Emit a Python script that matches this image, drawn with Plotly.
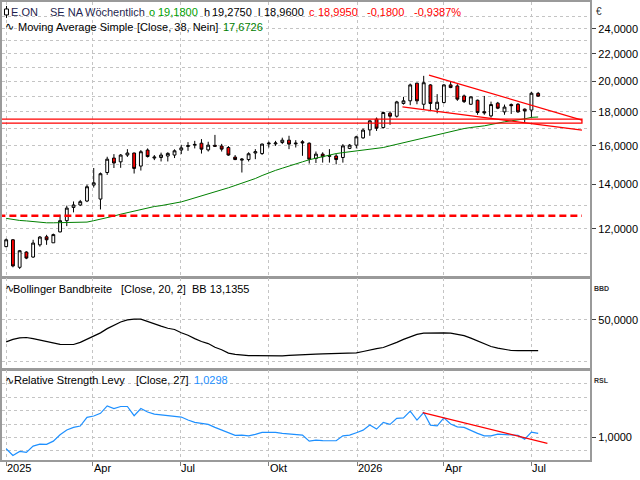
import plotly.graph_objects as go
import pandas as pd

# ---------------- data ----------------
dates = pd.date_range('2025-01-01', periods=80, freq='7D')

opens = [11.28, 11.55, 10.50, 11.07, 10.88, 11.35, 11.67, 11.43, 11.87, 12.34,
         12.92, 13.03, 13.21, 13.96, 13.30, 14.58, 15.33, 15.13, 15.49, 15.60,
         14.91, 15.76, 15.33, 15.36, 15.44, 15.49, 15.76, 15.96, 16.03, 16.14,
         15.77, 16.02, 15.98, 15.90, 15.38, 15.22, 15.25, 15.60, 15.57, 16.10,
         16.10, 16.18, 16.31, 16.10, 16.22, 16.14, 15.31, 15.54, 15.42, 15.44,
         15.36, 15.85, 16.03, 16.44, 16.90, 17.54, 17.04, 17.91, 17.72, 18.52,
         18.69, 19.87, 18.47, 19.75, 18.16, 18.58, 19.75, 19.68, 19.01, 18.47,
         18.73, 18.00, 17.74, 18.54, 17.99, 18.45, 18.47, 18.16, 18.10, 19.18]
highs = [11.60, 11.58, 11.15, 11.10, 11.55, 11.70, 11.75, 11.80, 12.60, 13.00,
         13.19, 13.26, 13.98, 14.81, 14.58, 15.40, 15.54, 15.54, 15.81, 15.62,
         15.76, 15.85, 15.49, 15.62, 15.64, 15.80, 16.05, 16.20, 16.27, 16.37,
         16.22, 16.61, 16.10, 15.98, 15.49, 15.33, 15.64, 15.81, 16.12, 16.23,
         16.27, 16.45, 16.56, 16.31, 16.31, 16.18, 15.68, 15.64, 15.81, 15.54,
         16.09, 16.09, 16.56, 16.98, 17.48, 17.64, 18.00, 18.02, 18.69, 18.95,
         19.84, 19.90, 20.38, 19.80, 19.13, 19.80, 19.97, 19.80, 19.10, 18.98,
         18.77, 19.01, 18.64, 18.62, 18.45, 18.52, 18.54, 18.20, 19.29, 19.275]
lows = [11.25, 10.50, 10.44, 10.80, 10.85, 11.28, 11.35, 11.43, 11.85, 12.11,
        12.70, 12.98, 13.16, 13.84, 12.83, 14.46, 14.81, 14.82, 15.39, 14.53,
        14.68, 15.36, 15.22, 15.15, 15.15, 15.33, 15.54, 15.72, 15.85, 15.57,
        15.68, 15.94, 15.68, 15.45, 15.22, 14.58, 15.15, 15.27, 15.50, 15.90,
        15.99, 16.09, 15.81, 15.90, 15.45, 15.04, 15.07, 15.09, 15.09, 15.00,
        15.09, 15.81, 15.85, 16.39, 16.56, 16.84, 16.98, 17.20, 17.64, 18.45,
        18.41, 18.47, 18.16, 18.10, 17.90, 18.52, 19.53, 18.69, 18.55, 18.43,
        17.81, 17.81, 17.64, 18.16, 17.81, 17.86, 17.93, 17.34, 17.64, 18.96]
closes = [11.55, 10.55, 11.12, 10.84, 11.42, 11.66, 11.55, 11.76, 12.34, 12.89,
          13.03, 13.18, 13.88, 14.07, 14.52, 15.27, 15.07, 15.49, 15.60, 14.79,
          15.67, 15.41, 15.38, 15.49, 15.58, 15.72, 15.88, 16.00, 16.07, 15.81,
          16.03, 15.97, 15.81, 15.49, 15.25, 15.27, 15.56, 15.67, 16.09, 16.14,
          16.15, 16.31, 16.09, 16.14, 16.16, 15.27, 15.54, 15.40, 15.46, 15.25,
          15.99, 16.03, 16.50, 16.89, 17.44, 17.00, 17.95, 17.72, 18.62, 18.69,
          19.75, 18.69, 19.90, 18.52, 18.60, 19.75, 19.57, 18.80, 18.64, 18.95,
          17.95, 17.93, 18.45, 18.22, 18.29, 18.38, 17.99, 18.05, 19.19, 18.995]

ma38 = [12.44, 12.39, 12.35, 12.33, 12.30, 12.26, 12.25, 12.25, 12.25, 12.25,
        12.26, 12.26, 12.28, 12.34, 12.40, 12.47, 12.54, 12.62, 12.69, 12.76,
        12.83, 12.89, 12.96, 13.00, 13.05, 13.10, 13.17, 13.26, 13.35, 13.45,
        13.54, 13.62, 13.74, 13.83, 13.94, 14.05, 14.16, 14.28, 14.43, 14.57,
        14.69, 14.80, 14.92, 15.03, 15.13, 15.24, 15.33, 15.42, 15.51, 15.57,
        15.62, 15.67, 15.72, 15.77, 15.81, 15.84, 15.90, 15.99, 16.08, 16.17,
        16.26, 16.35, 16.43, 16.53, 16.63, 16.71, 16.83, 16.91, 16.98, 17.04,
        17.08, 17.14, 17.22, 17.31, 17.38, 17.44, 17.48, 17.56, 17.65, 17.6726]

bb_width = [23.5, 26.5, 28.3, 28.8, 27.5, 25.8, 23.5, 21.5, 20.5, 20.4,
            20.4, 23.0, 27.0, 30.5, 34.4, 39.5, 44.0, 47.5, 50.0, 51.0,
            51.0, 48.0, 45.5, 42.5, 40.0, 38.5, 34.5, 31.5, 27.5, 24.0,
            21.5, 17.0, 14.0, 10.0, 8.5, 7.5, 7.0, 7.0, 6.8, 6.8,
            6.8, 6.8, 7.2, 7.8, 8.0, 8.2, 8.8, 9.0, 9.2, 9.6,
            9.8, 10.0, 10.3, 12.0, 14.0, 15.5, 16.8, 19.5, 23.0, 26.5,
            29.5, 32.5, 34.0, 34.4, 34.4, 34.4, 34.2, 33.0, 31.0, 28.0,
            24.5, 21.0, 18.0, 16.0, 14.5, 13.2, 13.0, 13.0, 13.1, 13.1355]

rsl = [0.915, 0.865, 0.895, 0.888, 0.935, 0.950, 0.948, 0.972, 1.020, 1.055,
       1.075, 1.085, 1.150, 1.160, 1.180, 1.235, 1.215, 1.231, 1.231, 1.162,
       1.216, 1.190, 1.174, 1.168, 1.164, 1.156, 1.152, 1.130, 1.112, 1.105,
       1.097, 1.075, 1.054, 1.030, 1.015, 1.017, 1.012, 1.022, 1.037, 1.037,
       1.037, 1.030, 1.025, 1.022, 1.017, 0.972, 0.980, 0.976, 0.975, 0.975,
       1.012, 1.017, 1.035, 1.054, 1.092, 1.062, 1.112, 1.097, 1.142, 1.146,
       1.196, 1.129, 1.186, 1.092, 1.086, 1.146, 1.100, 1.079, 1.075, 1.050,
       1.030, 1.012, 1.012, 1.025, 1.020, 1.017, 1.015, 0.987, 1.039, 1.0298]

# drawn trend / support lines (dates, values)
upper_trend_x = ['2026-03-16 12:00', '2026-08-22 12:00']
upper_trend_y = [20.43, 17.48]
lower_trend_x = ['2026-02-16 22:00', '2026-08-22 12:00']
lower_trend_y = [18.30, 16.89]
zone_x = ['2024-12-01', '2026-08-22 12:00', '2026-08-22 12:00', '2024-12-01']
zone_y = [17.54, 17.54, 17.30, 17.30]
dashed_x = ['2024-12-01', '2026-08-22 12:00']
dashed_y = [12.55, 12.55]
rsl_trend_x = ['2026-03-10', '2026-07-17 14:00']
rsl_trend_y = [1.186, 0.955]

tick_dates = ['2025-01-01', '2025-04-01', '2025-07-01', '2025-10-01',
              '2026-01-01', '2026-04-01', '2026-07-01']
tick_labels = ['2025', 'Apr', 'Jul', 'Okt', '2026', 'Apr', 'Jul']
price_ticks = [12, 14, 16, 18, 20, 22, 24]
price_labels = ['12,0000', '14,0000', '16,0000', '18,0000', '20,0000', '22,0000', '24,0000']
price_minor = [11, 13, 15, 17, 19, 21, 23, 25]

# ---------------- layout helpers ----------------
W, H = 640, 480
PH = 460
FONT = 'Liberation Sans'
GRID = '#c4c4c4'
FRAME = '#9a9a9a'
XR = ['2024-12-27 15:30', '2026-08-31 01:00']
XD = [0, 590 / 640]


def py(ypx):
    return (PH - ypx) / PH


fig = go.Figure()

fig.add_trace(go.Candlestick(
    x=dates, open=opens, high=highs, low=lows, close=closes,
    increasing=dict(line=dict(color='black', width=1), fillcolor='white'),
    decreasing=dict(line=dict(color='black', width=1), fillcolor='#ff0000'),
    whiskerwidth=0, hoverinfo='skip', xaxis='x', yaxis='y'))

fig.add_trace(go.Scatter(x=dates, y=ma38, mode='lines',
                         line=dict(color='#008000', width=1), xaxis='x', yaxis='y'))
fig.add_trace(go.Scatter(x=zone_x, y=zone_y, mode='lines',
                         line=dict(color='#ff0000', width=1.3), xaxis='x', yaxis='y'))
fig.add_trace(go.Scatter(x=dashed_x, y=dashed_y, mode='lines',
                         line=dict(color='#ff0000', width=2.5, dash='7px,4px'), xaxis='x', yaxis='y'))
fig.add_trace(go.Scatter(x=upper_trend_x, y=upper_trend_y, mode='lines',
                         line=dict(color='#ff0000', width=1.2), xaxis='x', yaxis='y'))
fig.add_trace(go.Scatter(x=lower_trend_x, y=lower_trend_y, mode='lines',
                         line=dict(color='#ff0000', width=1.2), xaxis='x', yaxis='y'))

fig.add_trace(go.Scatter(x=dates, y=bb_width, mode='lines',
                         line=dict(color='black', width=1.2), xaxis='x2', yaxis='y2'))

fig.add_trace(go.Scatter(x=dates, y=rsl, mode='lines',
                         line=dict(color='#1e90ff', width=1.2), xaxis='x3', yaxis='y3'))
fig.add_trace(go.Scatter(x=rsl_trend_x, y=rsl_trend_y, mode='lines',
                         line=dict(color='#ff0000', width=1.3), xaxis='x3', yaxis='y3'))

xbase = dict(type='date', range=XR, domain=XD, tickvals=tick_dates, showticklabels=False,
             showgrid=True, gridcolor=GRID, griddash='dot', gridwidth=1,
             showline=True, mirror=True, linecolor=FRAME, linewidth=2,
             zeroline=False, ticks='', fixedrange=True)
ybase = dict(side='right', showgrid=True, gridcolor=GRID, griddash='dot', gridwidth=1,
             showline=True, mirror=True, linecolor=FRAME, linewidth=2, zeroline=False,
             ticks='outside', ticklen=4, tickcolor='#404040', tickwidth=1,
             tickfont=dict(family=FONT, size=11, color='black'))

fig.update_layout(
    width=W, height=H, margin=dict(l=0, r=0, t=0, b=20, pad=0),
    paper_bgcolor='white', plot_bgcolor='white', showlegend=False,
    font=dict(family=FONT, size=11, color='black'),
    boxgap=0.4,
    xaxis=dict(xbase, anchor='y', rangeslider=dict(visible=False)),
    xaxis2=dict(xbase, anchor='y2', matches='x'),
    xaxis3=dict(xbase, anchor='y3', matches='x', ticks='outside', ticklen=4,
                tickcolor='#808080'),
    yaxis=dict(ybase, anchor='x', type='log', domain=[0.4, 1.0],
               range=[1.0069, 1.4203], tickmode='array', tickvals=price_ticks,
               ticktext=price_labels,
               minor=dict(tickmode='array', tickvals=price_minor, showgrid=True,
                          gridcolor=GRID, griddash='dot', ticklen=0)),
    yaxis2=dict(ybase, anchor='x2', domain=[0.1978, 0.3978], range=[-9.6, 100.7],
                tickmode='array', tickvals=[50], ticktext=['50,0000'],
                minor=dict(tickmode='array', tickvals=[0], showgrid=True,
                           gridcolor=GRID, griddash='dot', ticklen=0)),
    yaxis3=dict(ybase, anchor='x3', domain=[0, 0.1957], range=[0.831, 1.501],
                tickmode='array', tickvals=[1.0], ticktext=['1,0000'],
                minor=dict(tickmode='array', tickvals=[0.9, 1.1, 1.2, 1.3, 1.4],
                           showgrid=True, gridcolor=GRID, griddash='dot', ticklen=0)),
)

anns = []


def label(xpx, ypx, text, color='black', size=11, family=FONT):
    anns.append(dict(xref='paper', yref='paper', x=xpx / W, y=py(ypx), text=text,
                     showarrow=False, xanchor='left', yanchor='middle',
                     borderpad=0, borderwidth=0,
                     font=dict(family=family, size=size, color=color)))


NAVY = '#1f1f4f'
GREEN = '#00a000'
RED = '#ff0000'
header1 = [(9, 'E.ON', NAVY), (48, 'SE NA', NAVY), (83, 'Wöchentlich', NAVY),
           (147, 'o', GREEN), (156, '19,1800', GREEN), (203, 'h', 'black'),
           (211, '19,2750', 'black'), (257, 'l', 'black'), (263, '18,9600', 'black'),
           (308, 'c', RED), (317, '18,9950', RED), (366, '-0,1800', RED),
           (413, '-0,9387%', RED)]
for x, t, c in header1:
    label(x, 10, t, c)

label(3, 25, '\u223f', 'black', 11, 'DejaVu Sans')
label(16, 25, 'Moving Average Simple')
label(135, 25, '[Close, 38, Nein]')
label(222, 25, '17,6726', '#008000')

label(3, 288, '\u223f', 'black', 11, 'DejaVu Sans')
label(11, 288, 'Bollinger Bandbreite')
label(119, 288, '[Close, 20, 2]')
label(191, 288, 'BB 13,1355')

label(3, 380, '\u223f', 'black', 11, 'DejaVu Sans')
label(12, 380, 'Relative Strength Levy')
label(134, 380, '[Close, 27]')
label(193, 380, '1,0298', '#1e90ff')

label(596, 10, '€', '#333333', 10)
label(594, 288, '<b>BBD</b>', '#333333', 7)
label(594, 380, '<b>RSL</b>', '#333333', 7)

# x tick labels, left-aligned at the tick
xpx_per_day = 0.965
origin = pd.Timestamp('2025-01-01')
for d, t in zip(tick_dates, tick_labels):
    xp = 4.2 + (pd.Timestamp(d) - origin).days * xpx_per_day
    label(xp + 1, 468, t)

fig.update_layout(annotations=anns)

# small candle icon in the header
fig.add_shape(type='line', xref='paper', yref='paper', x0=4.5 / W, x1=4.5 / W,
              y0=py(4), y1=py(16), line=dict(color='black', width=1))
fig.add_shape(type='rect', xref='paper', yref='paper', x0=2.5 / W, x1=6.5 / W,
              y0=py(7), y1=py(13), line=dict(color='black', width=1), fillcolor='white')

fig.write_html('out.html')
